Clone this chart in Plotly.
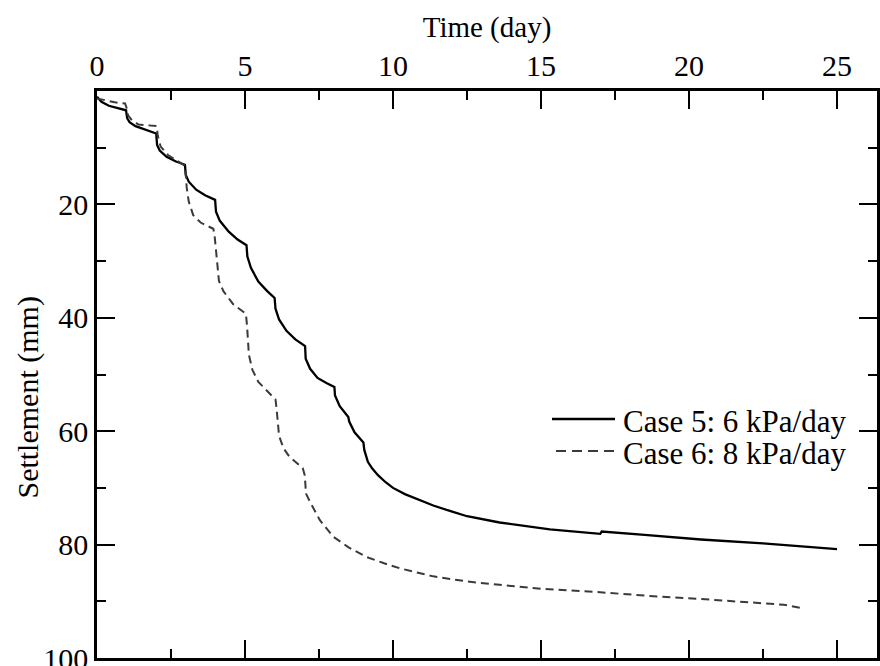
import plotly.graph_objects as go

# Case 5: 6 kPa/day  (time in days, settlement in mm)
t_case5 = [0, 0.15, 0.4, 0.7, 0.98,
           1.02, 1.1, 1.3, 1.6, 2.0,
           2.03, 2.12, 2.35, 2.65, 2.97,
           3.0, 3.1, 3.35, 3.65, 3.99,
           4.02, 4.15, 4.45, 4.75, 5.05,
           5.08, 5.2, 5.45, 5.75, 6.0,
           6.03, 6.15, 6.4, 6.7, 7.03,
           7.05, 7.2, 7.45, 7.75, 8.02,
           8.04, 8.2, 8.49, 8.52, 8.7, 9.0,
           9.03, 9.15, 9.3, 9.5, 9.75, 10.0, 10.4, 10.85, 11.36, 12.0, 12.5,
           13.6, 15.3, 17.0, 17.05, 18.5, 20.4, 22.5, 24.0, 25.0]
s_case5 = [1.0, 1.9, 2.6, 3.0, 3.4,
           4.8, 5.5, 6.2, 6.8, 7.5,
           9.5, 10.5, 11.6, 12.4, 13.0,
           14.8, 16.0, 17.4, 18.4, 19.2,
           21.3, 22.9, 24.8, 26.2, 27.2,
           29.2, 31.2, 33.6, 35.3, 36.5,
           38.4, 40.3, 42.3, 43.8, 45.0,
           47.2, 49.0, 50.6, 51.5, 52.2,
           53.7, 55.6, 57.5, 58.3, 60.2, 62.0,
           63.3, 65.4, 66.6, 67.8, 69.0, 70.0, 71.1, 72.0, 73.1, 74.2, 75.0,
           76.1, 77.3, 78.1, 77.7, 78.3, 79.1, 79.8, 80.4, 80.8]

# Case 6: 8 kPa/day
t_case6 = [0, 0.3, 0.6, 0.95,
           1.0, 1.05, 1.2, 1.4, 1.7, 2.02,
           2.05, 2.15, 2.4, 2.7, 2.95,
           3.0, 3.03, 3.1, 3.25, 3.5, 3.93,
           3.97, 4.05, 4.12, 4.27, 4.6, 5.03,
           5.07, 5.13, 5.25, 5.45, 5.84, 6.03,
           6.07, 6.15, 6.3, 6.5, 6.95, 7.02,
           7.06, 7.2, 7.53, 7.98, 8.5, 9.11, 9.7, 10.24, 11.36, 12.5, 13.6,
           15.0, 17.0, 18.5, 20.4, 22.6, 23.2, 23.8]
s_case6 = [1.3, 1.7, 2.0, 2.2,
           3.0, 4.3, 5.3, 5.9, 6.1, 6.2,
           7.8, 9.8, 11.3, 12.3, 13.1,
           14.8, 17.0, 19.5, 21.9, 23.2, 24.3,
           25.4, 30.1, 33.5, 35.3, 37.6, 39.3,
           41.5, 46.5, 49.2, 51.3, 53.5, 54.4,
           56.2, 60.8, 63.0, 64.5, 66.5, 67.8,
           71.0, 72.5, 75.7, 78.6, 80.5, 82.2, 83.3, 84.2, 85.6, 86.5, 87.1,
           87.8, 88.4, 89.0, 89.6, 90.3, 90.6, 91.2]

x_major = [0, 5, 10, 15, 20, 25]
x_minor = [2.5, 7.5, 12.5, 17.5, 22.5]
y_major = [0, 20, 40, 60, 80, 100]
y_major_text = ["", "20", "40", "60", "80", "100"]
y_minor = [10, 30, 50, 70, 90]

series_names = ["Case 5: 6 kPa/day", "Case 6: 8 kPa/day"]
series_colors = ["black", "#3a3a3a"]
series_dash = ["solid", "8px,5px"]

FONT = "Liberation Serif, Times New Roman, serif"

fig = go.Figure()
fig.add_trace(go.Scatter(x=t_case5, y=s_case5, mode="lines",
                         name=series_names[0], showlegend=False,
                         line=dict(color=series_colors[0], width=2.3, dash=series_dash[0])))
fig.add_trace(go.Scatter(x=t_case6, y=s_case6, mode="lines",
                         name=series_names[1], showlegend=False,
                         line=dict(color=series_colors[1], width=2, dash=series_dash[1])))

axis_common = dict(showline=True, linecolor="black", linewidth=2.5,
                   mirror="allticks", ticks="inside", ticklen=18, tickwidth=2,
                   tickcolor="black", showgrid=False, zeroline=False,
                   ticklabeloverflow="allow", automargin=False,
                   tickfont=dict(family=FONT, size=30, color="black"))

fig.update_xaxes(range=[0, 26.35], side="top", tickmode="array", tickvals=x_major,
                 minor=dict(tickmode="array", tickvals=x_minor, ticks="inside",
                            ticklen=9, tickwidth=2, tickcolor="black", showgrid=False),
                 title=dict(text="Time (day)", font=dict(family=FONT, size=29, color="black"),
                            standoff=4),
                 **axis_common)
fig.update_yaxes(range=[100, 0], tickmode="array", tickvals=y_major, ticktext=y_major_text,
                 minor=dict(tickmode="array", tickvals=y_minor, ticks="inside",
                            ticklen=9, tickwidth=2, tickcolor="black", showgrid=False),
                 **axis_common)

fig.add_annotation(text="Settlement (mm)", xref="paper", yref="paper",
                   x=-0.089, y=0.4586, textangle=-90, showarrow=False,
                   xanchor="center", yanchor="middle",
                   font=dict(family=FONT, size=30, color="black"))

# Legend (key lines + labels), placed in pixel-derived paper coordinates
W, H = 780.0, 567.0
def px(xp):
    return (xp - 97) / W
def py(yp):
    return 1 - (yp - 91) / H

legend_rows = [(419, 552, 615), (451, 556, 617)]
for i, (yrow, x0, x1) in enumerate(legend_rows):
    fig.add_shape(type="line", xref="paper", yref="paper",
                  x0=px(x0), x1=px(x1), y0=py(yrow), y1=py(yrow),
                  line=dict(color=series_colors[i], width=2.3 if i == 0 else 2,
                            dash="solid" if i == 0 else "10px,6px"))
    fig.add_annotation(text=series_names[i], xref="paper", yref="paper",
                       x=px(621), y=py(yrow + 2), xanchor="left", yanchor="middle",
                       showarrow=False,
                       font=dict(family=FONT, size=31, color="black"))

fig.update_layout(width=880, height=666,
                  margin=dict(l=97, r=3, t=91, b=8),
                  paper_bgcolor="white", plot_bgcolor="white",
                  showlegend=False)

fig.write_html("out.html")
